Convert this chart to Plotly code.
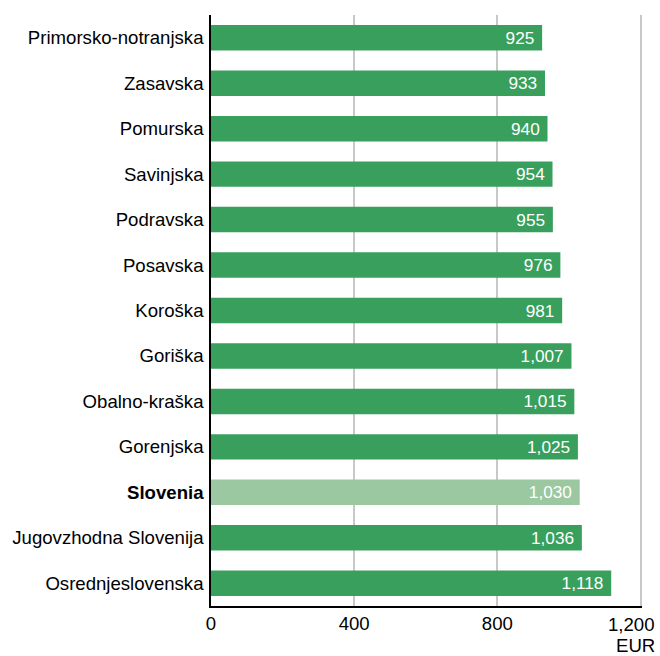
import plotly.graph_objects as go

regions = ["Primorsko-notranjska", "Zasavska", "Pomurska", "Savinjska", "Podravska",
           "Posavska", "Koroška", "Goriška", "Obalno-kraška", "Gorenjska", "Slovenia",
           "Jugovzhodna Slovenija", "Osrednjeslovenska"]
values = [925, 933, 940, 954, 955, 976, 981, 1007, 1015, 1025, 1030, 1036, 1118]
tick_vals = [0, 400, 800, 1200]
tick_text = ["0", "400", "800", "1,200"]

FONT = "Liberation Sans, Arial, sans-serif"
FS = 18.6

colors = ["#9bc8a0" if r == "Slovenia" else "#38a05c" for r in regions]
ticklabels = ["<b>Slovenia</b>" if r == "Slovenia" else r for r in regions]

fig = go.Figure(go.Bar(
    y=ticklabels, x=values, orientation="h",
    marker=dict(color=colors, line=dict(width=0)),
    width=0.56,
    text=[f"{v:,}\u00a0" for v in values], textposition="inside", insidetextanchor="end",
    textfont=dict(color="white", size=FS, family=FONT),
    cliponaxis=False, hoverinfo="skip",
))

fig.update_layout(
    width=660, height=656,
    margin=dict(l=211, r=18, t=15, b=50, autoexpand=False),
    plot_bgcolor="white", paper_bgcolor="white",
    font=dict(family=FONT, size=FS, color="black"),
    showlegend=False,
    uniformtext=dict(mode=False),
)
# the last tick label sits near the right edge, so it is drawn as a shifted annotation
fig.update_xaxes(range=[0, 1204], tickvals=tick_vals,
                 ticktext=tick_text[:-1] + [""],
                 showgrid=True, gridcolor="#c8c8c8", gridwidth=1.5,
                 showline=True, linecolor="black", linewidth=1.5,
                 zeroline=False, ticks="", ticklabelstandoff=0,
                 automargin=False, fixedrange=True)
fig.update_yaxes(autorange="reversed", showline=True, linecolor="black", linewidth=1.5,
                 ticks="", ticklabelstandoff=2, showgrid=False, zeroline=False,
                 automargin=False)

fig.add_annotation(text=tick_text[-1], xref="x", yref="paper", x=tick_vals[-1],
                   y=-(624 - 606) / 591, xshift=-9,
                   xanchor="center", yanchor="middle", showarrow=False,
                   font=dict(size=FS, family=FONT))
fig.add_annotation(text="EUR", xref="paper", yref="paper", x=(657 - 211) / 431,
                   y=-(645 - 606) / 591,
                   xanchor="right", yanchor="middle", showarrow=False,
                   font=dict(size=FS, family=FONT))

fig.write_html("out.html")
